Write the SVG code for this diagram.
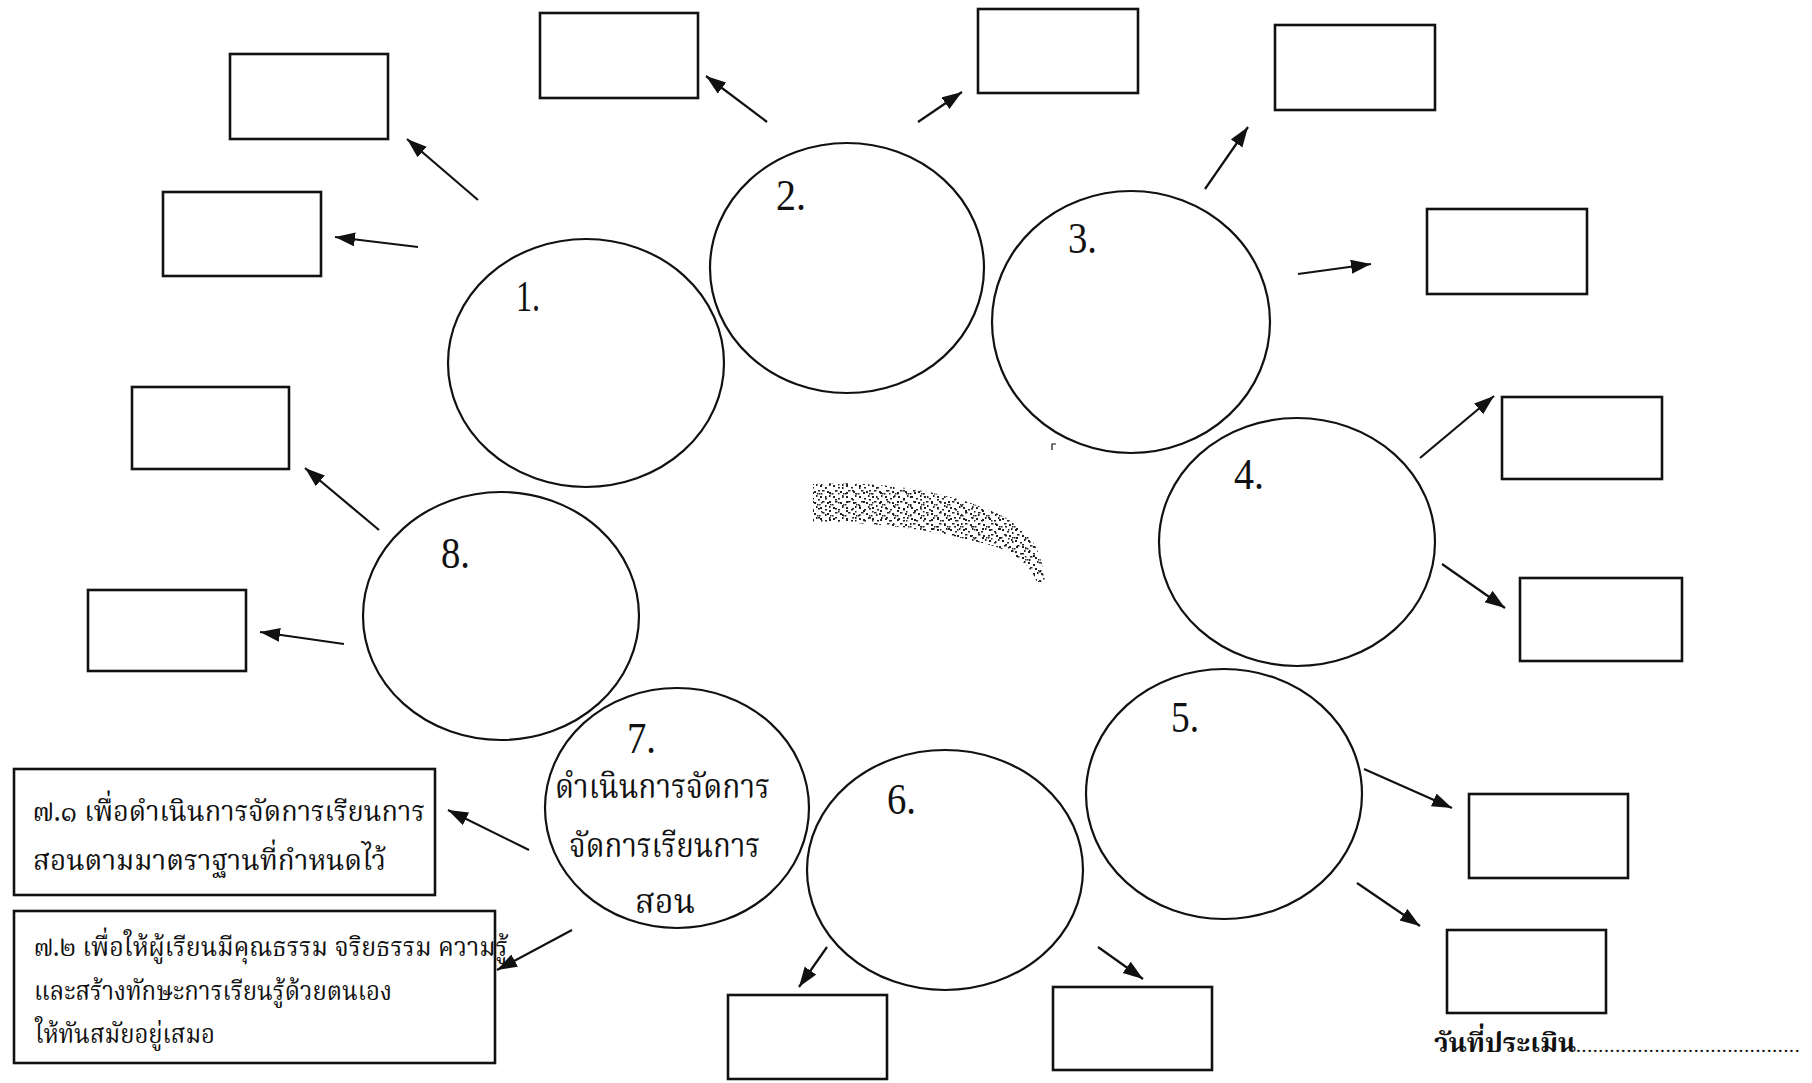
<svg xmlns="http://www.w3.org/2000/svg" width="1812" height="1083" viewBox="0 0 1812 1083">
<style>
.ell{fill:none;stroke:#111;stroke-width:2.2}
.box{fill:none;stroke:#111;stroke-width:2.6}
.con line{stroke:#111;stroke-width:2.2;marker-end:url(#ah)}
.num{font-family:"Liberation Serif","Times New Roman",serif;font-size:44px;fill:#111}
.th{font-family:"Noto Serif Thai","Noto Sans Thai Looped","Norasi","Garuda","Loma","Noto Sans Thai","Liberation Serif",serif;font-size:33px;fill:#111}
.ths{font-size:29px}
.thx{font-size:27px}
.thb{font-family:"Noto Serif Thai","Noto Sans Thai Looped","Norasi","Garuda","Loma","Noto Sans Thai","Liberation Serif",serif;font-size:27px;font-weight:bold;fill:#111}
</style>
<defs>
<marker id="ah" markerUnits="userSpaceOnUse" markerWidth="22" markerHeight="16" refX="20" refY="7" orient="auto">
<path d="M0,0 L20,7 L0,14 z" fill="#111"/>
</marker>
<pattern id="stip" patternUnits="userSpaceOnUse" width="13" height="11">
<rect x="1" y="1" width="2" height="2" fill="#222"/>
<rect x="6" y="3" width="2" height="1.5" fill="#222"/>
<rect x="10" y="0" width="1.5" height="2" fill="#222"/>
<rect x="3" y="6" width="2.5" height="1.5" fill="#222"/>
<rect x="8" y="7" width="2" height="2" fill="#222"/>
<rect x="11" y="9" width="1.5" height="1.5" fill="#222"/>
<rect x="0" y="9" width="1.5" height="1.5" fill="#222"/>
</pattern>
<pattern id="stip2" patternUnits="userSpaceOnUse" width="17" height="9">
<rect x="2" y="4" width="2" height="1.5" fill="#222"/>
<rect x="9" y="1" width="1.5" height="2" fill="#222"/>
<rect x="13" y="6" width="2" height="2" fill="#222"/>
<rect x="5" y="7" width="1.5" height="1.5" fill="#222"/>
</pattern>
</defs>
<rect width="1812" height="1083" fill="#fff"/>

<!-- scan smear -->
<g id="smear">
<path d="M813,484 C880,480 960,492 1010,520 C1030,532 1042,550 1045,582 L1037,582 C1030,565 1015,552 990,545 C950,535 900,522 813,522 Z" fill="url(#stip)"/>
<path d="M813,484 C880,480 960,492 1010,520 C1030,532 1042,550 1045,582 L1037,582 C1030,565 1015,552 990,545 C950,535 900,522 813,522 Z" fill="url(#stip2)"/>
<path d="M1052,450 L1052,444 L1056,444" fill="none" stroke="#111" stroke-width="1.2"/>
</g>

<g id="node1"><ellipse class="ell" cx="586" cy="363" rx="138" ry="124"/><text class="num" x="516" y="311" textLength="24" lengthAdjust="spacingAndGlyphs">1.</text></g>
<g id="node2"><ellipse class="ell" cx="847" cy="268" rx="137" ry="125"/><text class="num" x="776" y="210" textLength="30" lengthAdjust="spacingAndGlyphs">2.</text></g>
<g id="node3"><ellipse class="ell" cx="1131" cy="322" rx="139" ry="131"/><text class="num" x="1068" y="253" textLength="29" lengthAdjust="spacingAndGlyphs">3.</text></g>
<g id="node4"><ellipse class="ell" cx="1297" cy="542" rx="138" ry="124"/><text class="num" x="1234" y="489" textLength="30" lengthAdjust="spacingAndGlyphs">4.</text></g>
<g id="node5"><ellipse class="ell" cx="1224" cy="794" rx="138" ry="125"/><text class="num" x="1171" y="732" textLength="28" lengthAdjust="spacingAndGlyphs">5.</text></g>
<g id="node6"><ellipse class="ell" cx="945" cy="870" rx="138" ry="120"/><text class="num" x="887" y="814" textLength="29" lengthAdjust="spacingAndGlyphs">6.</text></g>
<g id="node7"><ellipse class="ell" cx="677" cy="808" rx="132" ry="120"/>
<text class="num" x="627" y="753" textLength="29" lengthAdjust="spacingAndGlyphs">7.</text>
<text class="th" x="555" y="798" textLength="215" lengthAdjust="spacingAndGlyphs">ดำเนินการจัดการ</text>
<text class="th" x="569" y="857" textLength="191" lengthAdjust="spacingAndGlyphs">จัดการเรียนการ</text>
<text class="th" x="635" y="913" textLength="60" lengthAdjust="spacingAndGlyphs">สอน</text>
</g>
<g id="node8"><ellipse class="ell" cx="501" cy="616" rx="138" ry="124"/><text class="num" x="441" y="568" textLength="29" lengthAdjust="spacingAndGlyphs">8.</text></g>

<g id="box1-a"><rect class="box" x="230" y="54" width="158" height="85"/></g>
<g id="box1-b"><rect class="box" x="163" y="192" width="158" height="84"/></g>
<g id="box2-a"><rect class="box" x="540" y="13" width="158" height="85"/></g>
<g id="box2-b"><rect class="box" x="978" y="9" width="160" height="84"/></g>
<g id="box3-a"><rect class="box" x="1275" y="25" width="160" height="85"/></g>
<g id="box3-b"><rect class="box" x="1427" y="209" width="160" height="85"/></g>
<g id="box4-a"><rect class="box" x="1502" y="397" width="160" height="82"/></g>
<g id="box4-b"><rect class="box" x="1520" y="578" width="162" height="83"/></g>
<g id="box5-a"><rect class="box" x="1469" y="794" width="159" height="84"/></g>
<g id="box5-b"><rect class="box" x="1447" y="930" width="159" height="83"/></g>
<g id="box6-a"><rect class="box" x="1053" y="987" width="159" height="83"/></g>
<g id="box6-b"><rect class="box" x="728" y="995" width="159" height="84"/></g>
<g id="box8-a"><rect class="box" x="132" y="387" width="157" height="82"/></g>
<g id="box8-b"><rect class="box" x="88" y="590" width="158" height="81"/></g>
<g id="box7-1"><rect class="box" x="14" y="769" width="421" height="126"/>
<text class="th ths" x="33" y="821" textLength="392" lengthAdjust="spacingAndGlyphs">๗.๑ เพื่อดำเนินการจัดการเรียนการ</text>
<text class="th ths" x="33" y="870" textLength="353" lengthAdjust="spacingAndGlyphs">สอนตามมาตราฐานที่กำหนดไว้</text>
</g>
<g id="box7-2"><rect class="box" x="14" y="911" width="481" height="152"/>
<text class="th thx" x="34" y="956" textLength="474" lengthAdjust="spacingAndGlyphs">๗.๒ เพื่อให้ผู้เรียนมีคุณธรรม จริยธรรม ความรู้</text>
<text class="th thx" x="34" y="1000" textLength="358" lengthAdjust="spacingAndGlyphs">และสร้างทักษะการเรียนรู้ด้วยตนเอง</text>
<text class="th thx" x="35" y="1043" textLength="180" lengthAdjust="spacingAndGlyphs">ให้ทันสมัยอยู่เสมอ</text>
</g>

<g id="connectors" class="con">
<line x1="478" y1="200" x2="407" y2="139"/>
<line x1="418" y1="247" x2="335" y2="237"/>
<line x1="767" y1="122" x2="706" y2="76"/>
<line x1="918" y1="122" x2="962" y2="92"/>
<line x1="1205" y1="189" x2="1248" y2="127"/>
<line x1="1298" y1="274" x2="1371" y2="264"/>
<line x1="1420" y1="458" x2="1494" y2="396"/>
<line x1="1442" y1="564" x2="1505" y2="608"/>
<line x1="1364" y1="769" x2="1452" y2="808"/>
<line x1="1357" y1="883" x2="1420" y2="926"/>
<line x1="1098" y1="947" x2="1143" y2="979"/>
<line x1="827" y1="947" x2="799" y2="987"/>
<line x1="529" y1="850" x2="448" y2="810"/>
<line x1="572" y1="930" x2="497" y2="970"/>
<line x1="344" y1="644" x2="260" y2="632"/>
<line x1="379" y1="530" x2="305" y2="468"/>
</g>

<g id="date">
<text class="thb" x="1434" y="1052">วันที่ประเมิน<tspan font-size="15" letter-spacing="1.2">........................................</tspan></text>
</g>
</svg>
